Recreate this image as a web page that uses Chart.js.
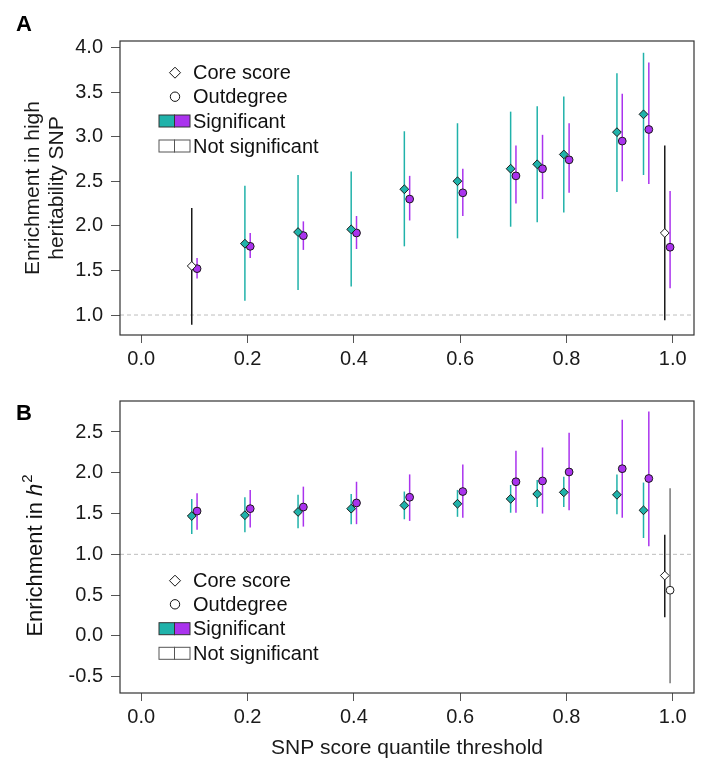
<!DOCTYPE html>
<html>
<head>
<meta charset="utf-8">
<script src="https://cdn.jsdelivr.net/npm/chart.js@4.4.1/dist/chart.umd.min.js"></script>
<style>
  body { margin: 0; background: #fff; }
  #wrap { position: relative; width: 702px; height: 764px; }
  .panel { position: absolute; left: 0; width: 702px; }
  #panelA { top: 0; height: 380px; }
  #panelB { top: 380px; height: 384px; }
</style>
</head>
<body>
<div id="wrap">
  <div class="panel" id="panelA"><canvas id="chartA"></canvas></div>
  <div class="panel" id="panelB"><canvas id="chartB"></canvas></div>
</div>
<script>
// quantile thresholds on the x axis
const thresholds = [0.1, 0.2, 0.3, 0.4, 0.5, 0.6, 0.7, 0.75, 0.8, 0.9, 0.95, 0.99];
const xTicks = [0, 0.2, 0.4, 0.6, 0.8, 1.0];

// panel A: enrichment in high heritability SNP
const coreA   = [1.55, 1.80, 1.93, 1.96, 2.41, 2.50, 2.64, 2.69, 2.80, 3.05, 3.25, 1.92];
const coreALo = [0.89, 1.16, 1.28, 1.32, 1.77, 1.86, 1.99, 2.04, 2.15, 2.38, 2.57, 0.94];
const coreAHi = [2.20, 2.45, 2.57, 2.61, 3.06, 3.15, 3.28, 3.34, 3.45, 3.71, 3.94, 2.90];
const coreASig = [false, true, true, true, true, true, true, true, true, true, true, false];
const outA    = [1.52, 1.77, 1.89, 1.92, 2.30, 2.37, 2.56, 2.64, 2.74, 2.95, 3.08, 1.76];
const outALo  = [1.41, 1.64, 1.73, 1.74, 2.06, 2.11, 2.25, 2.30, 2.37, 2.50, 2.47, 1.30];
const outAHi  = [1.64, 1.92, 2.05, 2.11, 2.56, 2.64, 2.90, 3.02, 3.15, 3.48, 3.83, 2.39];
const outASig = [true, true, true, true, true, true, true, true, true, true, true, true];
const yTicksA = [1.0, 1.5, 2.0, 2.5, 3.0, 3.5, 4.0];

// panel B: enrichment in h2
const coreB   = [1.47, 1.48, 1.52, 1.56, 1.60, 1.62, 1.68, 1.74, 1.76, 1.73, 1.54, 0.74];
const coreBLo = [1.25, 1.27, 1.32, 1.37, 1.43, 1.46, 1.51, 1.58, 1.58, 1.49, 1.20, 0.23];
const coreBHi = [1.68, 1.70, 1.73, 1.74, 1.77, 1.79, 1.85, 1.91, 1.95, 1.98, 1.88, 1.24];
const coreBSig = [true, true, true, true, true, true, true, true, true, true, true, false];
const outB    = [1.53, 1.56, 1.58, 1.63, 1.70, 1.77, 1.89, 1.90, 2.01, 2.05, 1.93, 0.56];
const outBLo  = [1.30, 1.33, 1.34, 1.37, 1.41, 1.45, 1.51, 1.50, 1.54, 1.45, 1.10, -0.58];
const outBHi  = [1.75, 1.79, 1.83, 1.89, 1.98, 2.10, 2.27, 2.31, 2.49, 2.65, 2.75, 1.81];
const outBSig = [true, true, true, true, true, true, true, true, true, true, true, false];
const yTicksB = [-0.5, 0.0, 0.5, 1.0, 1.5, 2.0, 2.5];

const legendLabels = ['Core score', 'Outdegree', 'Significant', 'Not significant'];

const FONT = "'Liberation Sans', Arial, Helvetica, sans-serif";
const TEAL = '#20b2aa';
const PURPLE = '#aa33ee';
const dodge = 0.005;

// error bars + dashed reference line, drawn under the points
const errorBars = {
  id: 'errorBars',
  beforeDatasetsDraw(chart) {
    const { ctx, chartArea, scales: { x, y } } = chart;
    ctx.save();
    ctx.strokeStyle = '#bdbdbd';
    ctx.lineWidth = 1;
    ctx.setLineDash([4, 3]);
    const y1 = y.getPixelForValue(1);
    ctx.beginPath();
    ctx.moveTo(chartArea.left, y1);
    ctx.lineTo(chartArea.right, y1);
    ctx.stroke();
    ctx.setLineDash([]);
    ctx.lineWidth = 1.5;
    chart.data.datasets.forEach(ds => {
      ds.data.forEach((p, i) => {
        const px = x.getPixelForValue(p.x);
        ctx.strokeStyle = ds.sig[i] ? ds.barColor : ds.nsBarColor;
        ctx.beginPath();
        ctx.moveTo(px, y.getPixelForValue(ds.lo[i]));
        ctx.lineTo(px, y.getPixelForValue(ds.hi[i]));
        ctx.stroke();
      });
    });
    ctx.restore();
  },
  afterDatasetsDraw(chart) {
    const { ctx, chartArea } = chart;
    ctx.save();
    ctx.strokeStyle = '#333';
    ctx.lineWidth = 1.2;
    ctx.strokeRect(chartArea.left, chartArea.top, chartArea.right - chartArea.left, chartArea.bottom - chartArea.top);
    ctx.restore();
  }
};

// panel letter, legend and the special y title
const decor = {
  id: 'decor',
  afterDraw(chart, args, opts) {
    const { ctx } = chart;
    ctx.save();
    ctx.fillStyle = '#000';
    ctx.font = 'bold 22px ' + FONT;
    ctx.textBaseline = 'alphabetic';
    ctx.fillText(opts.letter, 16, opts.letterY);

    const rows = opts.rows;
    const cx = 175, tx = 193;
    ctx.lineWidth = 1;
    ctx.strokeStyle = '#111';
    // diamond
    ctx.beginPath();
    ctx.moveTo(cx - 5.5, rows[0]); ctx.lineTo(cx, rows[0] - 5.5);
    ctx.lineTo(cx + 5.5, rows[0]); ctx.lineTo(cx, rows[0] + 5.5);
    ctx.closePath();
    ctx.fillStyle = '#fff'; ctx.fill(); ctx.stroke();
    // circle
    ctx.beginPath();
    ctx.arc(cx, rows[1], 4.7, 0, Math.PI * 2);
    ctx.fill(); ctx.stroke();
    // boxes
    const boxes = [[TEAL, PURPLE], ['#fff', '#fff']];
    boxes.forEach((cols, k) => {
      const yy = rows[2 + k];
      ctx.strokeStyle = k === 0 ? '#333' : '#555';
      cols.forEach((c, j) => {
        ctx.fillStyle = c;
        ctx.fillRect(159 + j * 15.5, yy - 6, 15.5, 12);
        ctx.strokeRect(159 + j * 15.5, yy - 6, 15.5, 12);
      });
    });
    ctx.fillStyle = '#111';
    ctx.font = '20px ' + FONT;
    ctx.textBaseline = 'middle';
    legendLabels.forEach((t, k) => ctx.fillText(t, tx, rows[k] + 1));

    if (opts.h2Title) {
      ctx.translate(opts.h2Title.x, opts.h2Title.y);
      ctx.rotate(-Math.PI / 2);
      const f1 = '22px ' + FONT, f2 = 'italic 22px ' + FONT, f3 = '15px ' + FONT;
      ctx.font = f1; const w1 = ctx.measureText('Enrichment in ').width;
      ctx.font = f2; const w2 = ctx.measureText('h').width;
      ctx.font = f3; const w3 = ctx.measureText('2').width;
      let sx = -(w1 + w2 + w3) / 2;
      ctx.textAlign = 'left';
      ctx.font = f1; ctx.fillText('Enrichment in ', sx, 0); sx += w1;
      ctx.font = f2; ctx.fillText('h', sx, 0); sx += w2 + 1;
      ctx.font = f3; ctx.fillText('2', sx, -8);
    }
    ctx.restore();
  }
};

function makeDatasets(core, coreLo, coreHi, coreSig, out, outLo, outHi, outSig) {
  return [
    {
      label: 'Core score',
      data: thresholds.map((t, i) => ({ x: t - dodge, y: core[i] })),
      lo: coreLo, hi: coreHi, sig: coreSig,
      barColor: TEAL, nsBarColor: '#1a1a1a',
      pointStyle: 'rectRot',
      pointRadius: 4.4,
      pointHoverRadius: 4.4,
      backgroundColor: coreSig.map(s => s ? TEAL : '#fff'),
      borderColor: '#1a1a1a',
      borderWidth: 1
    },
    {
      label: 'Outdegree',
      data: thresholds.map((t, i) => ({ x: t + dodge, y: out[i] })),
      lo: outLo, hi: outHi, sig: outSig,
      barColor: PURPLE, nsBarColor: '#777',
      pointStyle: 'circle',
      pointRadius: 3.9,
      pointHoverRadius: 3.9,
      backgroundColor: outSig.map(s => s ? PURPLE : '#fff'),
      borderColor: '#1a1a1a',
      borderWidth: 1
    }
  ];
}

function makeOptions(cfg) {
  return {
    responsive: true,
    maintainAspectRatio: false,
    animation: false,
    layout: { padding: { top: cfg.padTop, right: 8, bottom: 0, left: 0 } },
    plugins: {
      legend: { display: false },
      tooltip: { enabled: false },
      decor: cfg.decor
    },
    scales: {
      x: {
        type: 'linear',
        min: -0.04, max: 1.04,
        afterBuildTicks: s => { s.ticks = xTicks.map(v => ({ value: v })); },
        afterFit: s => { s.height = cfg.xHeight; },
        ticks: { font: { family: FONT, size: 20 }, color: '#1a1a1a', padding: 4, maxRotation: 0, callback: v => v.toFixed(1) },
        grid: { drawOnChartArea: false, drawTicks: true, tickLength: 8, tickColor: '#555' },
        border: { display: false },
        title: cfg.xTitle
      },
      y: {
        type: 'linear',
        min: cfg.yMin, max: cfg.yMax,
        afterBuildTicks: s => { s.ticks = cfg.yTicks.map(v => ({ value: v })); },
        afterFit: s => { s.width = 120; },
        ticks: { font: { family: FONT, size: 20 }, color: '#1a1a1a', padding: 8, callback: v => v.toFixed(1) },
        grid: { drawOnChartArea: false, drawTicks: true, tickLength: 9, tickColor: '#555' },
        border: { display: false },
        title: cfg.yTitle
      }
    }
  };
}

new Chart(document.getElementById('chartA'), {
  type: 'scatter',
  data: { datasets: makeDatasets(coreA, coreALo, coreAHi, coreASig, outA, outALo, outAHi, outASig) },
  options: makeOptions({
    padTop: 41, xHeight: 45, yMin: 0.776, yMax: 4.072, yTicks: yTicksA,
    xTitle: { display: false },
    yTitle: {
      display: true, text: ['Enrichment in high', 'heritability SNP'],
      font: { family: FONT, size: 21, lineHeight: 1.15 }, color: '#1a1a1a',
      padding: { top: 21, bottom: 0 }
    },
    decor: { letter: 'A', letterY: 31, rows: [72.7, 96.7, 121, 146] }
  }),
  plugins: [errorBars, decor]
});

new Chart(document.getElementById('chartB'), {
  type: 'scatter',
  data: { datasets: makeDatasets(coreB, coreBLo, coreBHi, coreBSig, outB, outBLo, outBHi, outBSig) },
  options: makeOptions({
    padTop: 21, xHeight: 71, yMin: -0.70, yMax: 2.88, yTicks: yTicksB,
    xTitle: {
      display: true, text: 'SNP score quantile threshold',
      font: { family: FONT, size: 21, lineHeight: 1.2 }, color: '#1a1a1a',
      padding: { top: 0, bottom: 3 }
    },
    yTitle: { display: false },
    decor: { letter: 'B', letterY: 40, rows: [200.7, 224.3, 248.7, 273.3], h2Title: { x: 36, y: 176 } }
  }),
  plugins: [errorBars, decor]
});
</script>
</body>
</html>
